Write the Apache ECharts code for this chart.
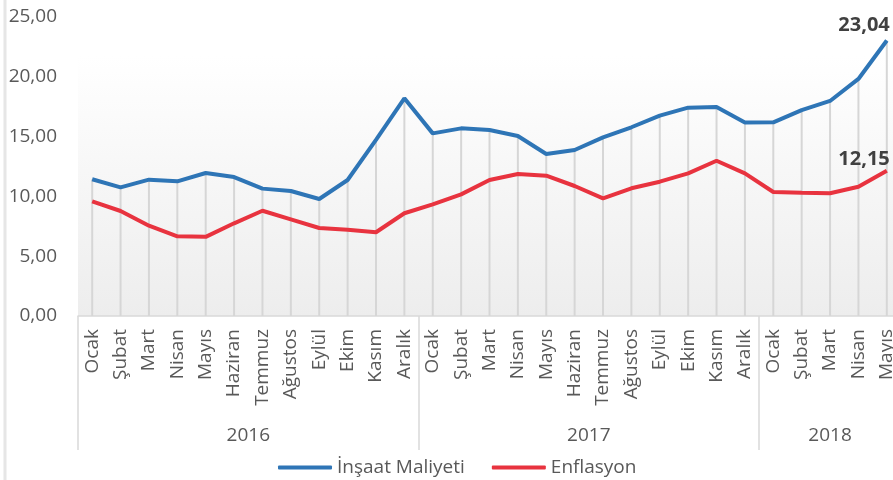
<!DOCTYPE html>
<html>
<head>
<meta charset="utf-8">
<script src="https://cdn.jsdelivr.net/npm/echarts@6/dist/echarts.min.js"></script>
<style>
  html, body { margin: 0; padding: 0; background: #fff; }
  #chart { width: 893px; height: 480px; }
</style>
</head>
<body>
<div id="chart"></div>
<script>
const months = ['Ocak', 'Şubat', 'Mart', 'Nisan', 'Mayıs', 'Haziran', 'Temmuz', 'Ağustos', 'Eylül', 'Ekim', 'Kasım', 'Aralık',
    'Ocak', 'Şubat', 'Mart', 'Nisan', 'Mayıs', 'Haziran', 'Temmuz', 'Ağustos', 'Eylül', 'Ekim', 'Kasım', 'Aralık',
    'Ocak', 'Şubat', 'Mart', 'Nisan', 'Mayıs'];
const years = ['2016', '2017', '2018'];
const yearCenters = [6, 18, 26.5];
const yearBounds = [0, 12, 24, 29];
const insaat = [11.43, 10.76, 11.40, 11.26, 11.96, 11.62, 10.65, 10.45, 9.78, 11.37, 14.72, 18.20,
    15.27, 15.69, 15.55, 15.05, 13.55, 13.88, 14.94, 15.78, 16.75, 17.42, 17.47, 16.17,
    16.19, 17.22, 17.98, 19.82, 23.04];
const enflasyon = [9.59, 8.78, 7.55, 6.66, 6.62, 7.75, 8.80, 8.08, 7.36, 7.22, 7.00, 8.59,
    9.34, 10.17, 11.37, 11.87, 11.73, 10.87, 9.84, 10.68, 11.23, 11.93, 12.98, 11.93,
    10.37, 10.31, 10.26, 10.81, 12.15];

const fmt = v => v.toFixed(2).replace('.', ',');
const font = '"Open Sans", sans-serif';
const textColor = '#595959';

const endLabel = (dy) => ({
    show: true,
    align: 'right',
    verticalAlign: 'bottom',
    distance: 0,
    offset: [3, dy],
    formatter: p => fmt(p.value),
    fontFamily: font,
    fontSize: 20,
    fontWeight: 'bold',
    color: '#404040'
});

const chart = echarts.init(document.getElementById('chart'));

chart.setOption({
    animation: false,
    backgroundColor: '#fff',
    textStyle: { fontFamily: font },
    grid: {
        left: 78,
        top: 17,
        width: 823,
        height: 299,
        outerBoundsMode: 'none',
        containLabel: false,
        show: true,
        borderWidth: 0,
        backgroundColor: new echarts.graphic.LinearGradient(0, 0, 0, 1, [
            { offset: 0, color: '#ffffff' },
            { offset: 0.13, color: '#ffffff' },
            { offset: 1, color: '#ededed' }
        ])
    },
    graphic: [{
        type: 'line',
        shape: { x1: 5, y1: 0, x2: 5, y2: 480 },
        style: { stroke: '#e6e6e6', lineWidth: 3 }
    }],
    legend: {
        left: 273,
        top: 453,
        itemGap: 27,
        itemWidth: 54,
        itemHeight: 4,
        icon: 'roundRect',
        textStyle: { fontSize: 19, color: textColor, fontFamily: font },
        data: ['İnşaat Maliyeti', 'Enflasyon']
    },
    xAxis: [{
        type: 'category',
        data: months,
        boundaryGap: true,
        axisLine: { lineStyle: { color: '#d9d9d9', width: 1.5 } },
        axisTick: { show: false },
        axisLabel: {
            rotate: 90,
            interval: 0,
            margin: 13,
            fontSize: 19,
            color: textColor,
            fontFamily: font
        }
    }, {
        type: 'value',
        min: 0,
        max: 29,
        position: 'bottom',
        axisLine: { show: false },
        splitLine: { show: false },
        axisTick: {
            show: true,
            customValues: yearBounds,
            length: 134,
            lineStyle: { color: '#d9d9d9', width: 1.5 }
        },
        axisLabel: {
            customValues: yearCenters,
            margin: 110,
            fontSize: 19,
            color: textColor,
            fontFamily: font,
            formatter: v => years[yearCenters.indexOf(v)] || ''
        }
    }],
    yAxis: {
        type: 'value',
        min: 0,
        max: 25,
        interval: 5,
        axisLine: { show: false },
        axisTick: { show: false },
        splitLine: { show: false },
        axisLabel: {
            margin: 21,
            fontSize: 19,
            color: textColor,
            fontFamily: font,
            formatter: fmt
        }
    },
    series: [{
        type: 'custom',
        silent: true,
        z: 1,
        data: months.map((m, i) => [i, Math.max(insaat[i], enflasyon[i])]),
        renderItem: (params, api) => {
            const top = api.coord([api.value(0), api.value(1)]);
            const bottom = api.coord([api.value(0), 0]);
            return {
                type: 'line',
                shape: { x1: top[0], y1: top[1], x2: bottom[0], y2: bottom[1] },
                style: { stroke: '#d6d6d6', lineWidth: 2 }
            };
        }
    }, {
        name: 'İnşaat Maliyeti',
        type: 'line',
        z: 3,
        data: insaat,
        showSymbol: false,
        symbol: 'none',
        color: '#2e75b6',
        lineStyle: { width: 4, color: '#2e75b6' },
        endLabel: endLabel(-5)
    }, {
        name: 'Enflasyon',
        type: 'line',
        z: 3,
        data: enflasyon,
        showSymbol: false,
        symbol: 'none',
        color: '#e8333f',
        lineStyle: { width: 4, color: '#e8333f' },
        endLabel: endLabel(-1)
    }]
});
</script>
</body>
</html>
